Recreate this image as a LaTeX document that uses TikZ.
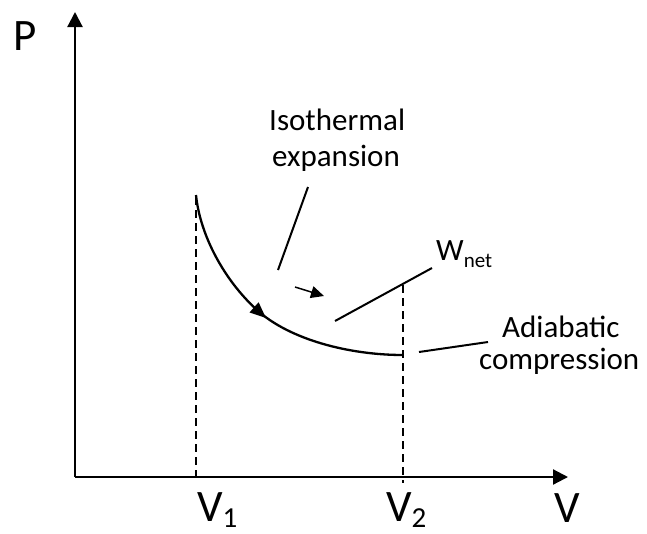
\documentclass[tikz,border=0pt]{standalone}
\usepackage{fontspec}
\setmainfont{Carlito}
\usetikzlibrary{arrows.meta}
\begin{document}
\begin{tikzpicture}[x=1pt,y=-1pt,
  axisline/.style={line width=2.2pt,-{Triangle[length=15pt,width=15pt]}},
  dashline/.style={line width=2pt,dash pattern=on 8pt off 5pt},
  curveline/.style={line width=2.3pt},
  leader/.style={line width=2pt},
  lbl/.style={inner sep=0pt,anchor=base west,font=\fontsize{31}{36}\selectfont},
  axlbl/.style={inner sep=0pt,anchor=base west,font=\fontsize{45}{50}\selectfont}]
\useasboundingbox (0,0) rectangle (647,533);
% axes
\coordinate (O) at (75,477);
\coordinate (ytip) at (75,12);
\coordinate (xtip) at (568,477);
\draw[axisline] (O) -- (ytip);
\draw[axisline] (O) -- (xtip);
% dashed verticals
\coordinate (v1top) at (196,197);
\coordinate (v1bot) at (196,477);
\coordinate (v2top) at (403,285);
\coordinate (v2bot) at (403,483);
\draw[dashline] (v1top) -- (v1bot);
\draw[dashline] (v2top) -- (v2bot);
% curve
\coordinate (c0) at (196,195);
\coordinate (cm) at (257,310);
\coordinate (c1) at (403,355);
\draw[curveline] (c0) .. controls (200,235) and (224,280) .. (cm)
                      .. controls (290,340) and (350,355) .. (c1);
% arrow on curve
\coordinate (ca) at (254,307.3);
\coordinate (cb) at (266,318);
\draw[curveline,-{Triangle[length=16pt,width=13pt]}] (ca) -- (cb);
% small arrow
\coordinate (sa) at (295,287);
\coordinate (sb) at (324,296);
\draw[line width=1.5pt,-{Triangle[length=13pt,width=12pt]}] (sa) -- (sb);
% leaders
\coordinate (i1) at (308,187);
\coordinate (i2) at (278,270);
\draw[leader] (i1) -- (i2);
\coordinate (w1) at (335,321);
\coordinate (w2) at (432,268);
\draw[leader] (w1) -- (w2);
\coordinate (a1) at (419,352);
\coordinate (a2) at (488,342);
\draw[leader] (a1) -- (a2);
% labels
\node[lbl] (iso1) at (269,130) {Isothermal};
\node[lbl] (iso2) at (272,166) {expansion};
\node[lbl] (adi1) at (502,337) {Adiabatic};
\node[lbl] (adi2) at (479,369) {compression};
\node[lbl] (wnet) at (436,260) {W\raisebox{-7pt}{\fontsize{21}{21}\selectfont net}};
\node[axlbl] (plbl) at (13,50) {P};
\node[axlbl] (vlbl) at (554,522) {V};
\node[axlbl] (v1lbl) at (197,521) {V\raisebox{-6pt}{\fontsize{29}{29}\selectfont 1}};
\node[axlbl] (v2lbl) at (386,521) {V\raisebox{-6pt}{\fontsize{29}{29}\selectfont 2}};
\end{tikzpicture}
\end{document}
